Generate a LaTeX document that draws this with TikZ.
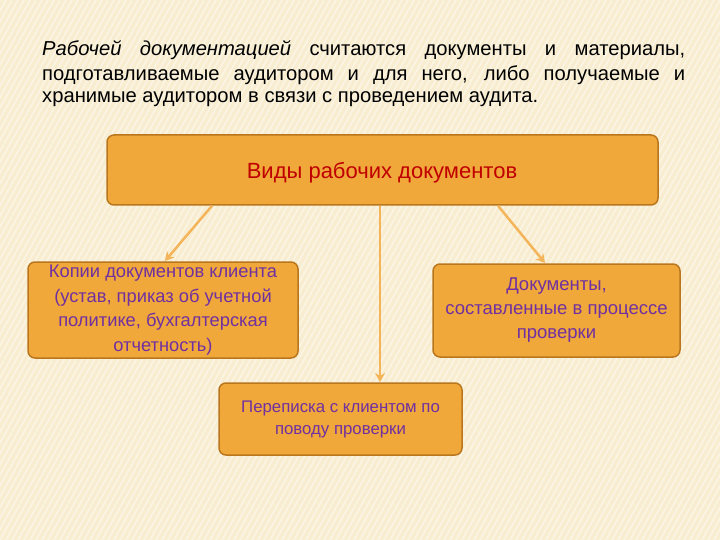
\documentclass[tikz,border=0pt]{standalone}
\usepackage{fontspec}
\usetikzlibrary{arrows.meta}
\setmainfont{Liberation Sans}
\definecolor{bg}{HTML}{F8EDD0}
\definecolor{boxf}{HTML}{F0A83A}
\definecolor{boxd}{HTML}{B9761C}
\definecolor{arr}{HTML}{F4B45A}
\definecolor{ttl}{HTML}{C00000}
\definecolor{pur}{HTML}{7030A0}
\begin{document}
\begin{tikzpicture}[x=1pt,y=-1pt,
  box/.style={draw=boxd,line width=1.5pt,fill=boxf,rounded corners=7pt,inner sep=0pt,align=center},
  con/.style={draw=arr,line width=2.5pt,-{Stealth[length=9pt,width=10pt]}},
  para/.style={anchor=west,inner sep=0pt,font=\fontsize{20.2}{24}\selectfont}]
\fill[bg] (0,0) rectangle (720,540);
\begin{scope}
\clip (0,0) rectangle (720,540);
\foreach \i in {-540,-534,...,720} \draw[white,opacity=0.45,line width=1.5pt] (\i,540) -- (\i+300,0);
\end{scope}
\useasboundingbox (0,0) rectangle (720,540);
\node[para] (l1) at (42,50) {\makebox[643pt][s]{\textit{Рабочей документацией} считаются документы и материалы,}};
\node[para] (l2) at (42,75) {\makebox[643pt][s]{подготавливаемые аудитором и для него, либо получаемые и}};
\node[para] (l3) at (42,99) {хранимые аудитором в связи с проведением аудита.};
\node[box,minimum width=551pt,minimum height=70pt] (top) at (382.5,170) {};
\node[text=ttl,font=\fontsize{22}{26}\selectfont] (tt) at (382,173) {Виды рабочих документов};
\node[box,minimum width=270pt,minimum height=96pt,text=pur,font=\fontsize{18.3}{24.5}\selectfont] (L) at (163,310) {Копии документов клиента\\(устав, приказ об учетной\\политике, бухгалтерская\\отчетность)};
\node[box,minimum width=247pt,minimum height=93pt,text=pur,font=\fontsize{18.5}{24}\selectfont] (R) at (556.5,310.5) {Документы,\\составленные в процессе\\проверки};
\node[box,minimum width=243pt,minimum height=72pt,text=pur,font=\fontsize{16.8}{22}\selectfont] (B) at (340.5,419) {Переписка с клиентом по\\поводу проверки};
\draw[con] (top.south -| 212,0) -- (165,261);
\draw[con] (top.south -| 380,0) -- (380,382);
\draw[con] (top.south -| 498,0) -- (545,263);
\end{tikzpicture}
\end{document}
